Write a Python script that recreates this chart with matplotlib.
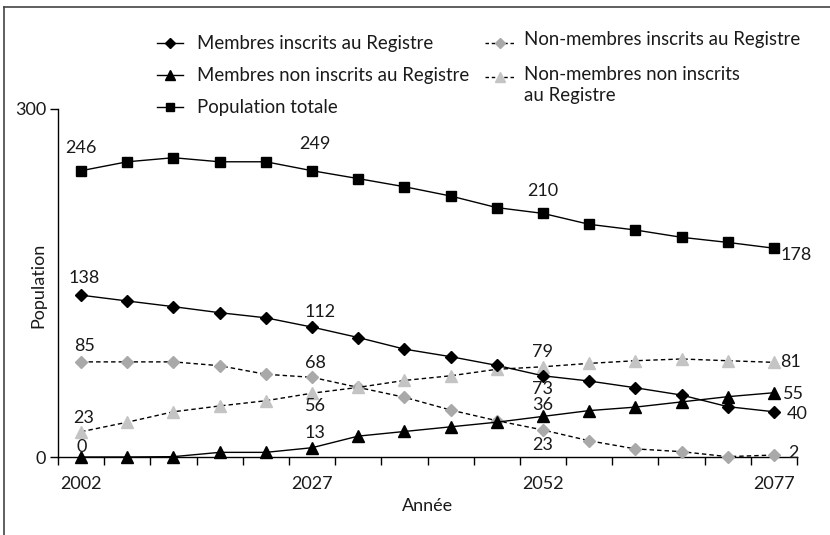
import matplotlib
matplotlib.use("Agg")
import matplotlib.pyplot as plt
from matplotlib.lines import Line2D

plt.rcParams['font.family'] = ['Lato', 'DejaVu Sans']

years = list(range(2002, 2078, 5))
tick_years = ["2002", "2027", "2052", "2077"]

membres_inscrits = [139.5, 134.5, 129.6, 124.4, 120.0, 112.0, 103.0, 93.0, 86.5, 79.0, 70.0, 65.5, 59.7, 53.4, 43.4, 39.0]
membres_non_inscrits = [0.0, 0.0, 0.3, 4.0, 4.0, 8.0, 18.0, 22.0, 26.0, 30.0, 35.0, 40.0, 43.0, 47.5, 52.0, 55.4]
population_totale = [246.8, 254.5, 258.0, 254.5, 254.5, 246.8, 240.0, 233.0, 225.0, 215.0, 210.0, 200.6, 195.7, 189.4, 185.0, 180.0]
non_membres_inscrits = [82.0, 82.0, 82.0, 78.7, 71.3, 68.7, 60.0, 51.5, 40.5, 31.3, 23.3, 14.0, 7.0, 4.6, 0.3, 1.7]
non_membres_non_inscrits = [21.8, 30.0, 39.0, 44.0, 48.5, 55.0, 60.0, 66.0, 70.0, 75.6, 77.8, 80.7, 83.0, 84.5, 83.0, 81.6]

# data labels: (index, text, dx px, dy px)
labels_pop = [(0, "246", 0, 23), (5, "249", 3, 27), (10, "210", 0, 22), (15, "178", 22, -7)]
labels_mi = [(0, "138", 3, 17), (5, "112", 8, 15), (10, "73", 0, -13), (15, "40", 23, -2)]
labels_mni = [(0, "0", 1, 10), (5, "13", 3, 15), (10, "36", 0, 11), (15, "55", 20, -1)]
labels_nmi = [(0, "85", 3, 16), (5, "68", 3, 14), (10, "23", 0, -15), (15, "2", 19, 2)]
labels_nmni = [(0, "23", 3, 14), (5, "56", 3, -13), (10, "79", 0, 15), (15, "81", 17, 0)]

W, H = 830, 535
fig = plt.figure(figsize=(W / 100, H / 100), dpi=100)
ax = fig.add_axes([58 / W, 1 - 457 / H, (797 - 58) / W, (457 - 109) / H])

x = list(range(len(years)))
lw = 1.0
dash = (3.2, 2.2)
txtc = '#1a1a1a'

ax.plot(x, population_totale, color='black', lw=lw, marker='s', ms=7.5, mec='black', clip_on=False, zorder=5)
ax.plot(x, membres_inscrits, color='black', lw=lw, marker='D', ms=6.5, mec='black', clip_on=False, zorder=5)
ax.plot(x, membres_non_inscrits, color='black', lw=lw, marker='^', ms=8, mec='black', clip_on=False, zorder=5)
ax.plot(x, non_membres_inscrits, color='black', lw=lw, ls=(0, dash), marker='D', ms=6.5,
        mfc='#a9a9a9', mec='#a9a9a9', clip_on=False, zorder=4)
ax.plot(x, non_membres_non_inscrits, color='black', lw=lw, ls=(0, dash), marker='^', ms=8,
        mfc='#c4c4c4', mec='#c4c4c4', clip_on=False, zorder=4)

fs = 13
for series, labs in [(population_totale, labels_pop), (membres_inscrits, labels_mi),
                     (membres_non_inscrits, labels_mni), (non_membres_inscrits, labels_nmi),
                     (non_membres_non_inscrits, labels_nmni)]:
    for i, t, dx, dy in labs:
        ax.annotate(t, (x[i], series[i]), xytext=(dx, dy), textcoords='offset pixels',
                    ha='center', va='center', fontsize=fs, color=txtc, zorder=6)

ax.set_xlim(-0.5, 15.5)
ax.set_ylim(0, 300)
for s in ['top', 'right']:
    ax.spines[s].set_visible(False)
for s in ['left', 'bottom']:
    ax.spines[s].set_linewidth(1.0)
    ax.spines[s].set_color('black')

ax.set_yticks([0, 300])
ax.set_yticklabels(["0", "300"])
ax.tick_params(axis='y', direction='out', length=5.5, width=1.0, labelsize=fs, pad=3, colors='black', labelcolor=txtc)

ax.set_xticks([0, 5, 10, 15])
ax.set_xticklabels(tick_years)
ax.set_xticks([i - 0.5 for i in range(17)], minor=True)
ax.tick_params(axis='x', which='major', length=0, labelsize=fs, pad=14, labelcolor=txtc)
ax.tick_params(axis='x', which='minor', direction='out', length=6, width=1.0, colors='black')

ax.set_xlabel("Année", fontsize=fs, color=txtc)
ax.xaxis.set_label_coords(0.5, -(506 - 457) / (457 - 109))
ax.xaxis.label.set_va('center')
ax.set_ylabel("Population", fontsize=fs, color=txtc)
ax.yaxis.set_label_coords(-(58 - 38) / (797 - 58), 0.5 - (285 - 283) / (457 - 109))
ax.yaxis.label.set_va('center')

# legend (manual placement)
def handle(x0, x1, y, ls, marker, mfc, ms):
    yy = 1 - y / H
    fig.add_artist(Line2D([x0 / W, x1 / W], [yy, yy], transform=fig.transFigure, color='black', lw=lw, ls=ls))
    fig.add_artist(Line2D([(x0 + x1) / 2 / W], [yy], transform=fig.transFigure, marker=marker,
                          mfc=mfc, mec=mfc, ms=ms, ls='none'))

entries_left = [("Membres inscrits au Registre", 43, 'D', 'black', 5),
                ("Membres non inscrits au Registre", 75, '^', 'black', 6.5),
                ("Population totale", 107, 's', 'black', 6)]
for txt, y, m, c, ms in entries_left:
    handle(157, 183, y, '-', m, c, ms)
    fig.text(197 / W, 1 - y / H, txt, fontsize=13.4, va='center', ha='left', color=txtc)

entries_right = [("Non-membres inscrits au Registre", 43, 'D', '#a9a9a9', 5),
                 ("Non-membres non inscrits\nau Registre", 77, '^', '#c4c4c4', 6.5)]
for txt, y, m, c, ms in entries_right:
    handle(485, 514, y, (0, (2.5, 2.0)), m, c, ms)
    fig.text(524 / W, 1 - (y - 11.5) / H, txt, fontsize=13.4, va='top', ha='left', color=txtc, linespacing=1.3)

# frame: top and left border
fig.add_artist(Line2D([4 / W, 1], [1 - 7 / H, 1 - 7 / H], transform=fig.transFigure, color='#444444', lw=1.2))
fig.add_artist(Line2D([4 / W, 4 / W], [0, 1 - 7 / H], transform=fig.transFigure, color='#444444', lw=1.2))

fig.savefig("out.png", dpi=100)
